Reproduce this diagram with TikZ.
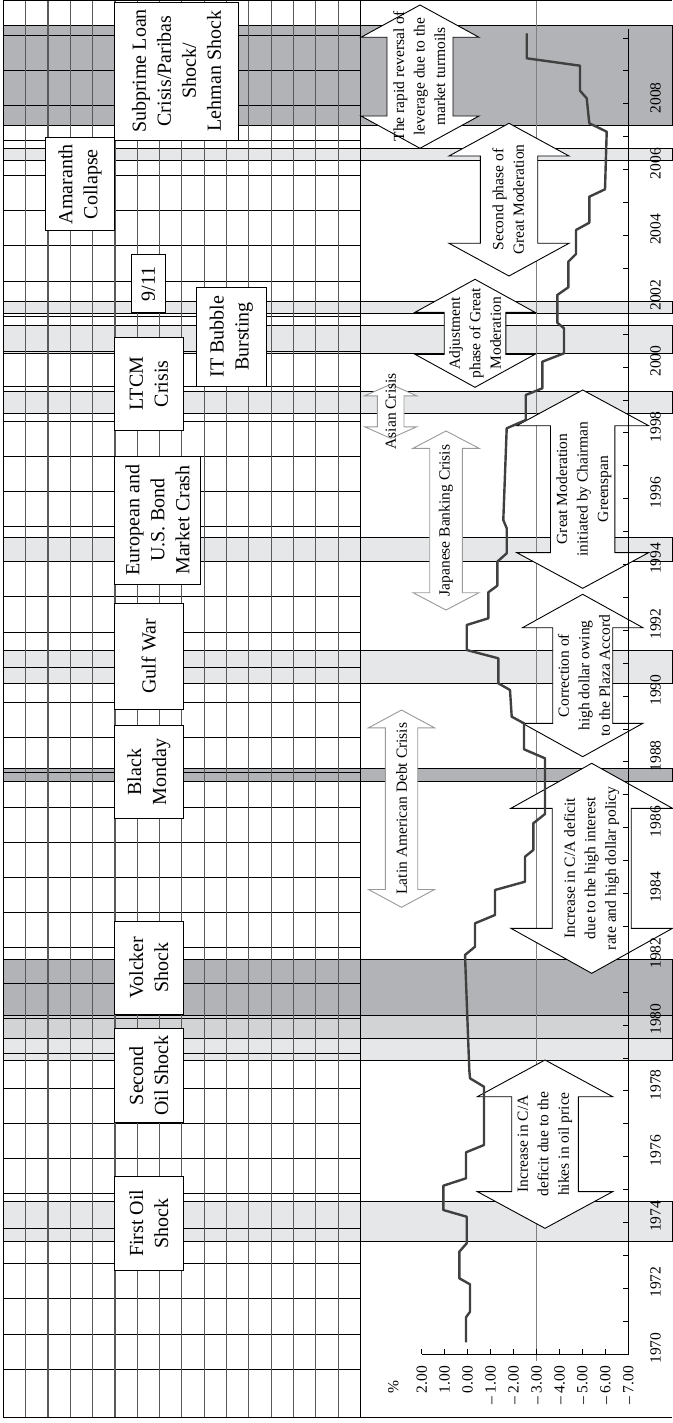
\documentclass[tikz,border=0pt]{standalone}
\usepackage{fontspec}
\setmainfont{Liberation Serif}

\definecolor{bandlight}{HTML}{E6E7E8}
\definecolor{bandmid}{HTML}{D1D3D4}
\definecolor{banddark}{HTML}{B1B3B6}
\definecolor{cacurve}{HTML}{404040}

\tikzset{
  bandedge/.style={draw=black, line width=0.8pt},
  gridv/.style={draw=black!65, line width=1.1pt},
  gridh/.style={draw=black, line width=0.7pt},
  evbox/.style={draw, fill=white, line width=0.9pt, rotate=90, align=center, inner sep=1pt, font=\fontsize{20}{25}\selectfont},
  phasearrow/.style={draw=black, fill=white, line width=0.9pt},
  crisisarrow/.style={draw=black!40, fill=white, line width=0.9pt},
  arrowtext/.style={rotate=90, align=center, inner sep=0pt, font=\fontsize{15.5}{20.5}\selectfont},
  axislabel/.style={rotate=90, inner sep=0pt, font=\fontsize{15.5}{18}\selectfont}
}

\newcommand{\yearpos}[1]{1354-32.9*(#1-1970)}
\newcommand{\valpos}[1]{421.7+22.96*(2-(#1))}
\newcommand{\blockarrow}[7]{%
  \draw[#1] (#2,#3) -- ({#2+#6},{#3+#7}) -- ({#2+#5},{#3+#7}) -- ({#2+#5},{#4-#7})
    -- ({#2+#6},{#4-#7}) -- (#2,#4) -- ({#2-#6},{#4-#7}) -- ({#2-#5},{#4-#7})
    -- ({#2-#5},{#3+#7}) -- ({#2-#6},{#3+#7}) -- cycle;}

\begin{document}
\begin{tikzpicture}[x=1pt,y=-1pt]
\useasboundingbox (0,0) rectangle (672,1423);

% shaded periods
\foreach \ya/\yb/\c in {25/125/banddark, 148.3/160/bandlight, 301.7/313.3/bandlight,
  325/353/bandlight, 391/413.3/bandlight, 537.7/561.7/bandlight, 650/683.3/bandlight,
  768.3/781.7/banddark, 959.3/1015/banddark, 1015/1038.3/bandmid, 1038.3/1060/bandlight,
  1201.7/1241/bandlight}
  \filldraw[bandedge, fill=\c] (3.3,\ya) rectangle (672,\yb);

% table grid on the left
\foreach \k in {0,...,38}
  \draw[gridh] (3.3,{1369-35.1*\k}) -- (360.6,{1369-35.1*\k});
\foreach \k in {1,...,15}
  \draw[gridv] ({3.3+22.33*\k},1) -- ({3.3+22.33*\k},1417);

\draw[line width=1pt] (672,1) -- (3.3,1) -- (3.3,1417) -- (672,1417);
\draw[line width=1pt] (360.6,1) -- (360.6,1417);
\draw[black!50, line width=0.8pt] ({\valpos{-3}},1) -- ({\valpos{-3}},1361);

% crisis periods
\blockarrow{crisisarrow}{390.7}{384.3}{438.3}{13.3}{26}{11.5}
\blockarrow{crisisarrow}{446}{431}{610}{16.3}{33}{17.3}
\blockarrow{crisisarrow}{401.5}{710}{907.3}{16.2}{33}{17.8}
\node[arrowtext] (asian) at (390.7,411.3) {Asian Crisis};
\node[arrowtext] (japan) at (446,520.5) {Japanese Banking Crisis};
\node[arrowtext] (latam) at (401.5,808.6) {Latin American Debt Crisis};

% phases
\blockarrow{phasearrow}{545}{1060}{1228.3}{33.3}{67.7}{36.7}
\blockarrow{phasearrow}{591.7}{763.3}{973.3}{39.5}{80.8}{45}
\blockarrow{phasearrow}{582.7}{594.3}{756.7}{30}{60.2}{33.4}
\blockarrow{phasearrow}{582.7}{390}{588.3}{32.2}{66}{35.7}
\blockarrow{phasearrow}{475}{279.3}{387.3}{30.8}{60}{33}
\blockarrow{phasearrow}{509}{123.3}{276}{28.7}{60}{32.7}
\blockarrow{phasearrow}{420}{5}{148.3}{33}{59}{32.3}
\node[arrowtext] (oilhike) at (545,1144) {Increase in C/A\\deficit due to the\\hikes in oil price};
\node[arrowtext] (highrate) at (591.7,868.3) {Increase in C/A deficit\\due to the high interest\\rate and high dollar policy};
\node[arrowtext] (plaza) at (584,675.5) {Correction of\\high dollar owing\\to the Plaza Accord};
\node[arrowtext] (greenspan) at (584,489) {Great Moderation\\initiated by Chairman\\Greenspan};
\node[arrowtext] (adjust) at (475,333.3) {Adjustment\\phase of Great\\Moderation};
\node[arrowtext] (secondphase) at (508.3,199.6) {Second phase of\\Great Moderation};
\node[arrowtext] (reversal) at (419.3,76.6) {The rapid reversal of\\leverage due to the\\market turmoils};

% axes
\draw[line width=1pt] (628.3,29) -- (628.3,1354) -- (421.7,1354);
\foreach \y in {1971,...,2010}
  \draw[line width=0.8pt] (623,{\yearpos{\y}}) -- (628.3,{\yearpos{\y}});
\foreach \v in {2,1,...,-7}
  \draw[line width=0.8pt] ({\valpos{\v}},1349) -- ({\valpos{\v}},1354);
\foreach \y in {1970,1972,...,2008}
  \node[axislabel] (yr\y) at (655.5,{\yearpos{\y}-6}) {\y};
\foreach \v/\t [count=\i] in {2/2.00, 1/1.00, 0/0.00, -1/– 1.00, -2/– 2.00, -3/– 3.00,
  -4/– 4.00, -5/– 5.00, -6/– 6.00, -7/– 7.00}
  \node[axislabel, anchor=east] (val\i) at ({\valpos{\v}},1366) {\t};
\node[axislabel] (pct) at (393.3,1386.7) {\%};

% current account balance
\draw[cacurve, line width=2.4pt, line join=round] plot coordinates {
  (466,1342.3) (466,1317.3) (470,1311.7) (470,1284.3) (459.3,1278.3) (459.3,1251.7)
  (466.7,1243.3) (466.7,1216.7) (443.3,1210) (443.3,1185.7) (466,1178.3) (466,1152.3)
  (484,1145) (484,1086.7) (470,1078.3) (469.3,1070) (465,955) (475,946.7) (475,923.3)
  (495,915) (495,890) (525,881.7) (525,856.7) (533.3,850) (533.3,823.3) (545,814)
  (545,758.3) (524,749.3) (524,723.3) (511.7,716.7) (510,690) (498.3,683.3) (498.3,658.3)
  (466.7,650) (466.7,625) (488.3,618.3) (488.3,592.3) (497.3,585.7) (497.3,561.7)
  (506.7,553.3) (506.7,528.3) (503.3,520) (506.7,428.3) (525.7,420) (525.7,395)
  (542.3,388.3) (542.3,361.7) (564,353.3) (564,328.3) (557.3,322.7) (557.3,295)
  (568.3,287.3) (568.3,261.7) (576,254) (576,230) (589.3,222.7) (589.3,196.7)
  (605,189.3) (606.7,131.7) (589.3,123.3) (586.7,98.3) (580,90.7) (580,65.7)
  (526.7,58.3) (526.7,33.3)};

% events
\node[evbox, minimum width=138pt, minimum height=124.4pt] (subprime) at (176.5,71) {Subprime Loan\\Crisis/Paribas\\Shock/\\Lehman Shock};
\node[evbox, minimum width=93.3pt, minimum height=68.6pt] (amaranth) at (80,184.3) {Amaranth\\Collapse};
\node[evbox, minimum width=58.2pt, minimum height=33.3pt] (nineeleven) at (148.3,283.6) {9/11};
\node[evbox, minimum width=99pt, minimum height=69.3pt] (itbubble) at (231.3,336.5) {IT Bubble\\Bursting};
\node[evbox, minimum width=93.5pt, minimum height=69pt] (ltcm) at (148.8,383.7) {LTCM\\Crisis};
\node[evbox, minimum width=128pt, minimum height=86.4pt] (eurobond) at (157.5,520) {European and\\U.S. Bond\\Market Crash};
\node[evbox, minimum width=105.4pt, minimum height=69pt] (gulfwar) at (148.8,656.3) {Gulf War};
\node[evbox, minimum width=93.2pt, minimum height=69pt] (blackmonday) at (148.8,772.2) {Black\\Monday};
\node[evbox, minimum width=93pt, minimum height=69pt] (volcker) at (148.8,967.5) {Volcker\\Shock};
\node[evbox, minimum width=93.7pt, minimum height=69pt] (secondoil) at (148.8,1075.6) {Second\\Oil Shock};
\node[evbox, minimum width=93.5pt, minimum height=69pt] (firstoil) at (148.8,1223.2) {First Oil\\Shock};
\end{tikzpicture}
\end{document}
